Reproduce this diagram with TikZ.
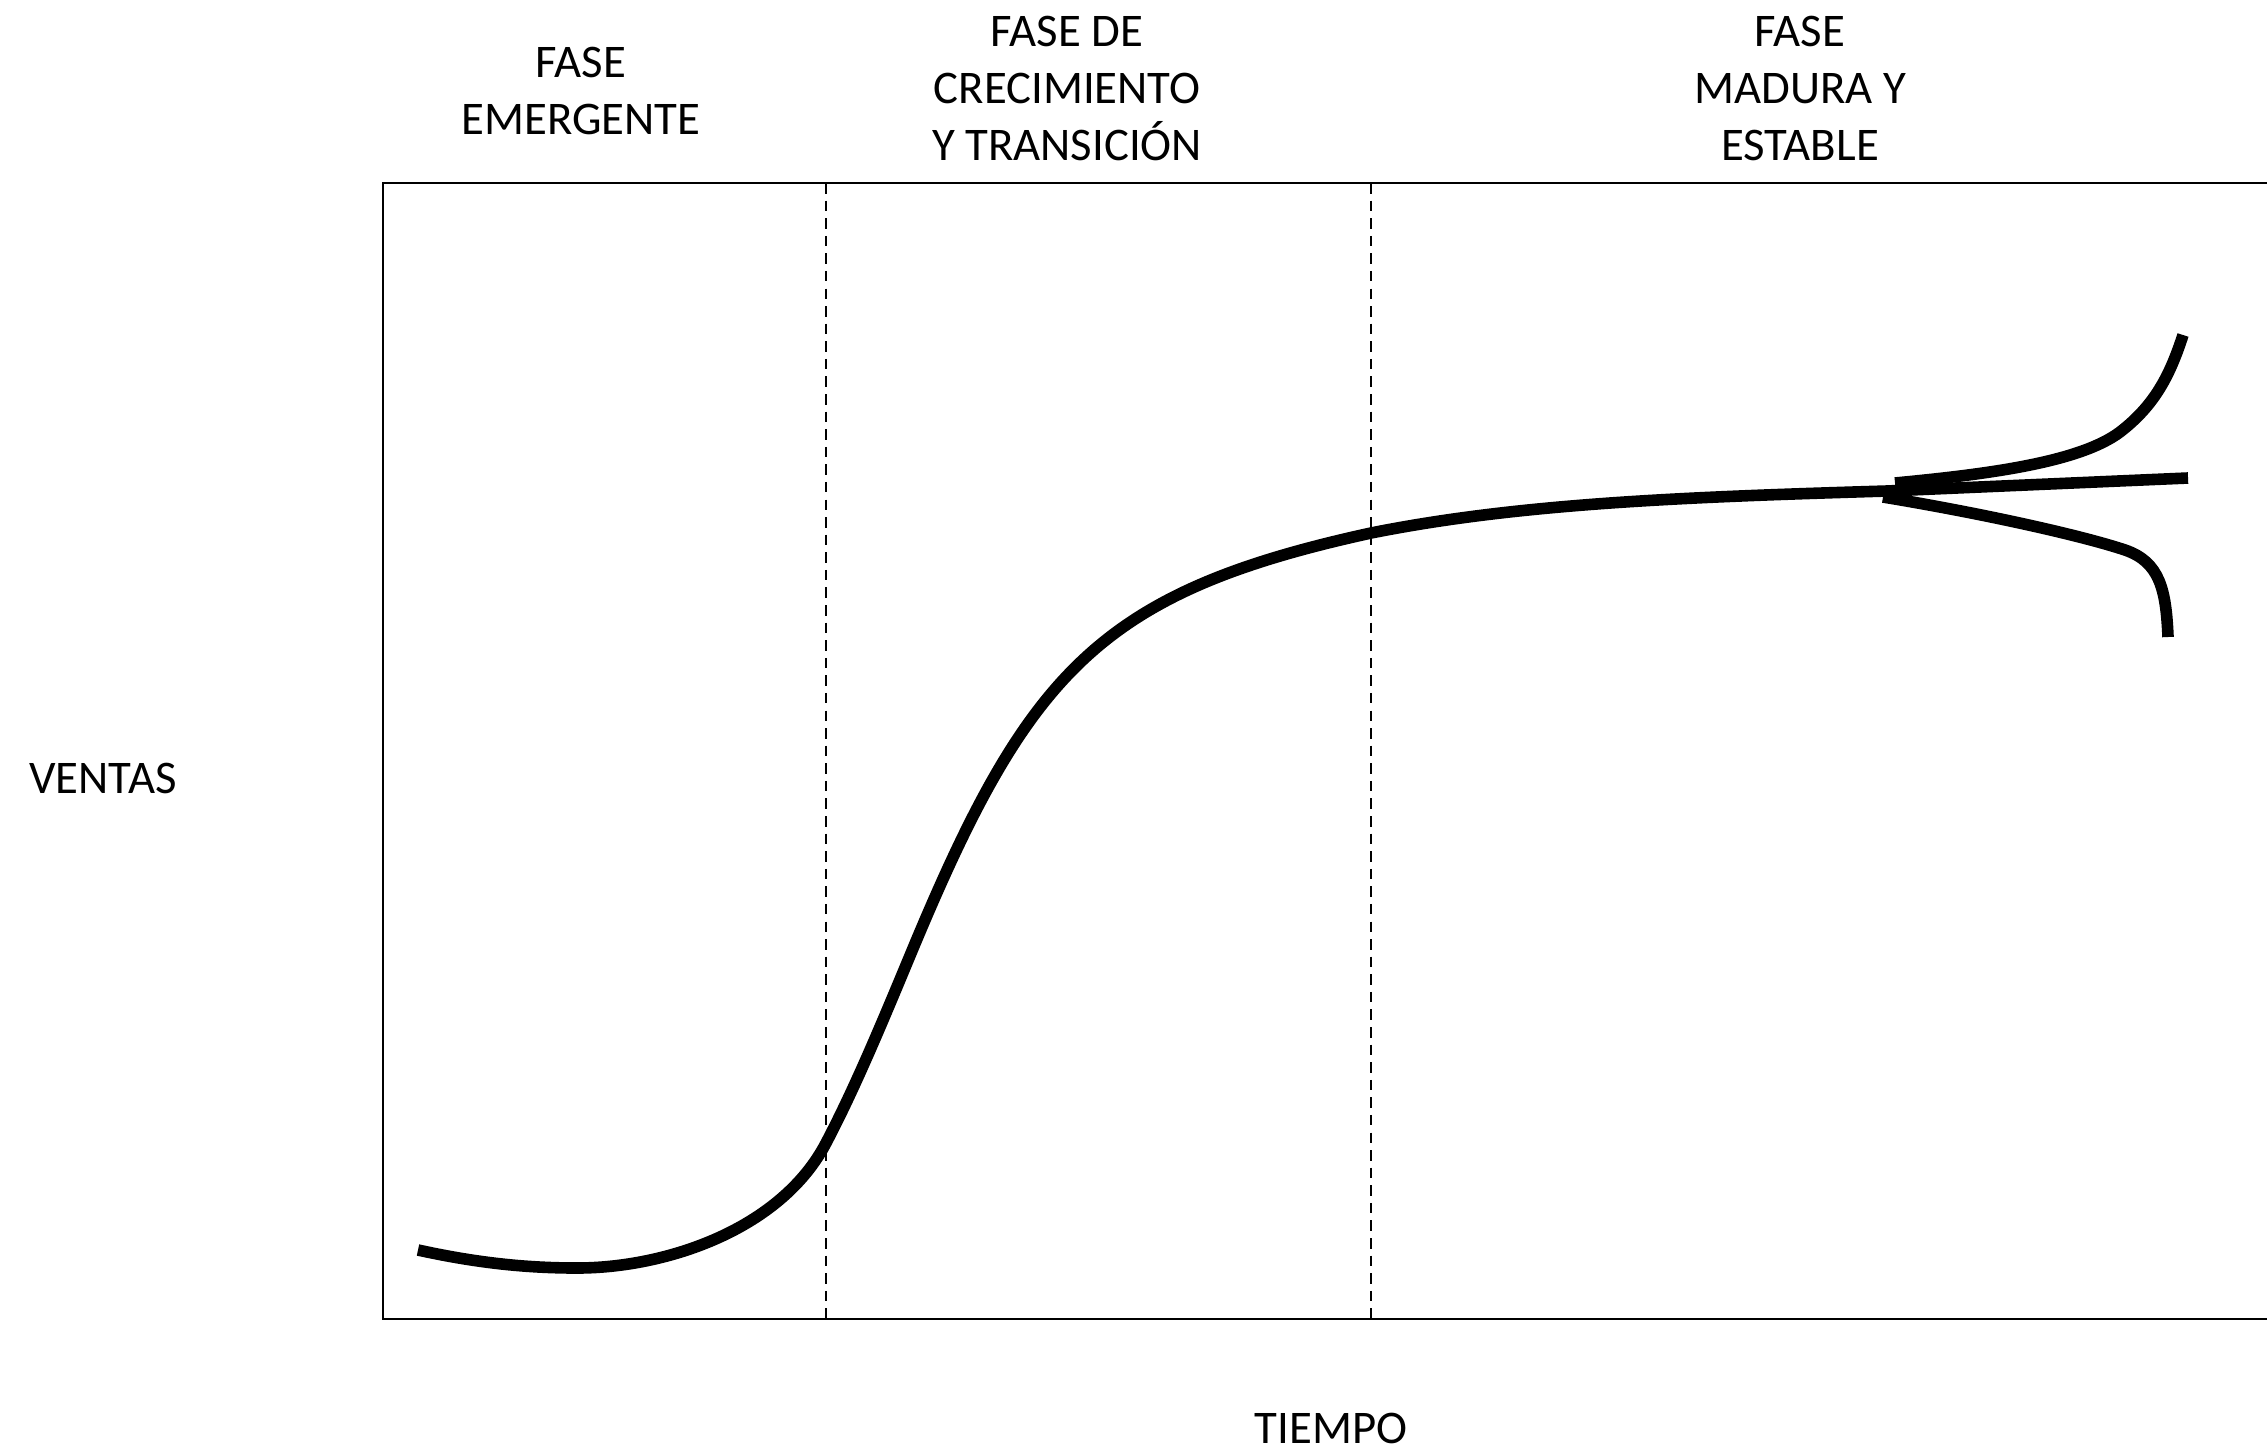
\documentclass[tikz,border=0pt]{standalone}
\usepackage{fontspec}
\setmainfont{Carlito}
\usetikzlibrary{positioning}

\begin{document}
\begin{tikzpicture}[x=0.01cm, y=-0.01cm,
    marco/.style={line width=0.65pt},
    divisor/.style={line width=0.5pt, dash pattern=on 3pt off 2pt},
    curva/.style={line width=3.3pt},
    etiqueta/.style={align=center, inner sep=0pt, font=\fontsize{13.3}{16.2}\selectfont}]
    \useasboundingbox (0,0) rectangle (2267,1451);
    % marco (el lado derecho queda fuera de la figura)
    \draw[marco] (2290,183) -- (383,183) -- (383,1319) -- (2290,1319);
    \draw[divisor] (826,183) -- (826,1319);
    \draw[divisor] (1371,183) -- (1371,1319);
    % fases
    \node[etiqueta, anchor=north] (emergente) at (581,46) {FASE\\EMERGENTE};
    \node[etiqueta, anchor=north] (crecimiento) at (1067,15) {FASE DE\\CRECIMIENTO\\Y TRANSICIÓN};
    \node[etiqueta, anchor=north] (madura) at (1800,15) {FASE\\MADURA Y\\ESTABLE};
    % ejes
    \node[etiqueta, anchor=base] (ventas) at (103,793) {VENTAS};
    \node[etiqueta, anchor=base] (tiempo) at (1331,1443) {TIEMPO};
    % curva de ventas
    \coordinate (inicio) at (418,1250);
    \coordinate (bifurca) at (1887,491);
    \draw[curva] (inicio) .. controls (473,1262) and (522,1268) .. (577,1268)
        .. controls (667,1268) and (781,1229) .. (826,1143)
        .. controls (856,1086) and (884,1018) .. (914,946)
        .. controls (1029,671) and (1101,592) .. (1371,533)
        .. controls (1521,503) and (1687,497) .. (bifurca)
        -- (2188,478);
    % escenarios finales
    \draw[curva] (1895,483) .. controls (1990,474) and (2080,462) .. (2120,432)
        .. controls (2155,405) and (2170,375) .. (2183,335);
    \draw[curva] (1883,497) .. controls (1980,513) and (2080,535) .. (2125,550)
        .. controls (2160,562) and (2166,590) .. (2168,637);
\end{tikzpicture}
\end{document}
